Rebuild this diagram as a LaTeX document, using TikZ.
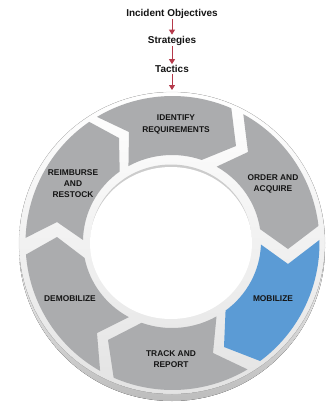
\documentclass[tikz,border=0pt]{standalone}
\usepackage{fontspec}
\setmainfont{Liberation Sans}
\usetikzlibrary{arrows.meta}
\definecolor{seggray}{HTML}{ABACAE}
\definecolor{segblue}{HTML}{5B9BD5}
\definecolor{ink}{HTML}{141414}
\definecolor{redarrow}{HTML}{B5394A}
\newcommand{\OP}[1]{([shift={(#1:147)}]172.5,243)}
\newcommand{\IP}[1]{([shift={(#1:89 and 86.5)}]172,241.5)}
\tikzset{
  seglabel/.style={font=\bfseries\fontsize{8.4}{11.2}\selectfont,text=ink,align=center,inner sep=0pt},
  headlabel/.style={font=\bfseries\fontsize{10}{12}\selectfont,text=ink,inner sep=1pt},
  flowarrow/.style={draw=redarrow,line width=.9pt,-{Triangle[length=5bp,width=6bp]}},
}
\begin{document}
\begin{tikzpicture}[x=1bp,y=-1bp]
\useasboundingbox (0,0) rectangle (330,403);
\fill[white] (0,0) rectangle (330,403);
% ring body
\fill[top color=white,bottom color=black!26,middle color=black!6] (172,247.5) ellipse [x radius=153,y radius=153.5];
\filldraw[draw=black!18,line width=.25pt,top color=white,bottom color=black!11] (172,243) ellipse [x radius=153,y radius=151];
% hole
\fill[black!20] (171,241) ellipse [x radius=80.5,y radius=76.5];
\fill[white] (171,243) ellipse [x radius=81,y radius=76];
% segments
\fill[seggray] \OP{-120.9} arc[start angle=-120.9,end angle=-66.4,radius=147]
  -- (236,146) -- \IP{-70.5} arc[start angle=-70.5,end angle=-119.3,x radius=89,y radius=86.5]
  -- (129,132) -- cycle;
\fill[seggray] \OP{-61.2} arc[start angle=-61.2,end angle=-6.7,radius=147]
  -- (288,249) -- \IP{-8.2} arc[start angle=-8.2,end angle=-59.9,x radius=89,y radius=86.5]
  -- (248,152) -- cycle;
\fill[segblue] \OP{-1.2} arc[start angle=-1.2,end angle=53.4,radius=147]
  -- (224,347) -- \IP{53} arc[start angle=53,end angle=2,x radius=89,y radius=86.5]
  -- (288,264) -- cycle;
\fill[seggray] \OP{59.3} arc[start angle=59.3,end angle=113.6,radius=147]
  -- (108,340) -- \IP{110} arc[start angle=110,end angle=60,x radius=89,y radius=86.5]
  -- (213,353) -- cycle;
\fill[seggray] \OP{119.5} arc[start angle=119.5,end angle=175.5,radius=147]
  -- (57,237) -- \IP{169} arc[start angle=169,end angle=119,x radius=89,y radius=86.5]
  -- (97,333) -- cycle;
\fill[seggray] \OP{-178} arc[start angle=-178,end angle=-124.5,radius=147]
  -- (119,138) -- \IP{-126} arc[start angle=-126,end angle=-179,x radius=89,y radius=86.5]
  -- (57,222) -- cycle;
% labels
\node[seglabel] (identify) at (176,124.5) {IDENTIFY\\REQUIREMENTS};
\node[seglabel] (order) at (273,184) {ORDER AND\\ACQUIRE};
\node[seglabel] (mobilize) at (273,299) {MOBILIZE};
\node[seglabel] (track) at (171,359.5) {TRACK AND\\REPORT};
\node[seglabel] (demobilize) at (70,299) {DEMOBILIZE};
\node[seglabel] (reimburse) at (73,183.5) {REIMBURSE\\AND\\RESTOCK};
% header
\node[headlabel] (objectives) at (172,13.5) {Incident Objectives};
\node[headlabel] (strategies) at (172,40.5) {Strategies};
\node[headlabel] (tactics) at (172,69) {Tactics};
\coordinate (ringtop) at (172,90);
\draw[flowarrow] (objectives) -- (strategies);
\draw[flowarrow] (strategies) -- (tactics);
\draw[flowarrow] (tactics) -- (ringtop);
\end{tikzpicture}
\end{document}
